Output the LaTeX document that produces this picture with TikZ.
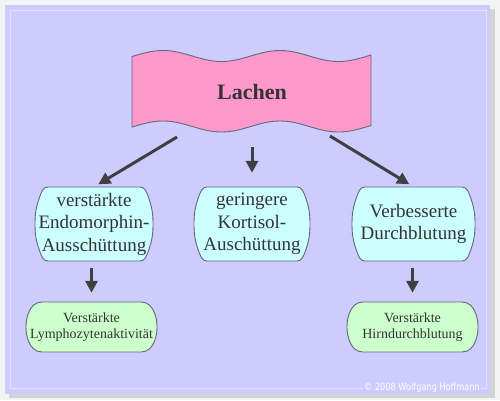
\documentclass[tikz,border=0pt]{standalone}
\usepackage{fontspec}
\setmainfont{Liberation Serif}
\newfontfamily\copyfont[FakeStretch=0.82]{DejaVu Sans}
\usetikzlibrary{arrows.meta}
\definecolor{bgpurple}{HTML}{CCCCFF}
\definecolor{innerline}{HTML}{E2E2FF}
\definecolor{outerbg}{HTML}{F4F4F4}
\definecolor{shadowgray}{HTML}{D4D4D4}
\definecolor{bannerpink}{HTML}{FF99CC}
\definecolor{boxcyan}{HTML}{CCFFFF}
\definecolor{boxgreen}{HTML}{CCFFCC}
\definecolor{edgegray}{HTML}{666677}
\definecolor{arrowgray}{HTML}{404040}
\definecolor{textgray}{HTML}{333333}
% #1 style, #2 cx, #3 cy, #4 half width, #5 half height, #6 top inset, #7 side inset, #8 corner drop
\newcommand{\blobshape}[8]{%
  \path[#1, shift={(#2,#3)}] (-#4+#6,-#5) -- (#4-#6,-#5)
    to[out=0,in=110] (#4-#7,-#5+#8) to[out=-70,in=90] (#4,0)
    to[out=-90,in=70] (#4-#7,#5-#8) to[out=-110,in=0] (#4-#6,#5)
    -- (-#4+#6,#5)
    to[out=180,in=-70] (-#4+#7,#5-#8) to[out=110,in=-90] (-#4,0)
    to[out=90,in=-110] (-#4+#7,-#5+#8) to[out=70,in=180] cycle;}
\begin{document}
\begin{tikzpicture}[x=1pt,y=-1pt,
  midfill/.style={draw=edgegray, line width=0.9pt, fill=boxcyan},
  lowfill/.style={draw=edgegray, line width=0.9pt, fill=boxgreen},
  midtext/.style={minimum height=74pt, inner sep=0pt, align=center,
    text=textgray, font=\fontsize{19}{22.5}\selectfont},
  lowtext/.style={minimum height=50pt, inner sep=0pt, align=center,
    text=textgray, font=\fontsize{14}{16}\selectfont},
  arr/.style={draw=arrowgray, line width=3pt, -{Triangle[width=12pt,length=12pt]}},
  ]
\useasboundingbox (0,0) rectangle (500,400);
% frame
\fill[outerbg] (0,0) rectangle (500,400);
\fill[shadowgray] (9,9) rectangle (495,398);
\fill[bgpurple] (5,5) rectangle (490,394);
\draw[innerline, line width=1pt] (10.5,10.5) rectangle (486.5,388);
\node[fill=bgpurple, inner sep=1.5pt, text=white, font=\copyfont\fontsize{10}{12}\selectfont] (copy) at (422,388) {© 2008 Wolfgang Hoffmann};
% banner
\draw[fill=bannerpink, draw=edgegray, line width=0.9pt]
  plot[domain=132:371, samples=80] (\x,{56-5.5*cos(3.0769*(\x-163))})
  -- plot[domain=371:132, samples=80] (\x,{126.5-5.5*cos(3.0769*(\x-163))}) -- cycle;
\node[text=textgray, font=\bfseries\fontsize{22}{26}\selectfont] (lachen) at (252,92) {Lachen};
% box shapes
\blobshape{midfill}{94}{224}{59}{37}{13}{5}{9}
\blobshape{midfill}{252}{224}{58}{37}{13}{5}{9}
\blobshape{midfill}{413.5}{224}{61.5}{37}{13}{5}{9}
\blobshape{lowfill}{91.5}{327}{65.5}{25}{16}{2.5}{11}
\blobshape{lowfill}{412.5}{327}{65.5}{25}{16}{2.5}{11}
% box texts
\node[midtext, minimum width=118pt] (endo) at (94,224) {verstärkte\\Endomorphin-\\Ausschüttung};
\node[midtext, minimum width=116pt] (kort) at (252,224) {geringere\\Kortisol-\\Auschüttung};
\node[midtext, minimum width=123pt] (durch) at (413.5,224) {Verbesserte\\Durchblutung};
\node[lowtext, minimum width=131pt] (lymph) at (91.5,327) {Verstärkte\\Lymphozytenaktivität};
\node[lowtext, minimum width=131pt] (hirn) at (412.5,327) {Verstärkte\\Hirndurchblutung};
% arrow starts
\coordinate (s1) at (177,137);
\coordinate (s2) at (252,147);
\coordinate (s3) at (330,136);
\draw[arr, shorten >=5pt] (s1) -- (endo.north);
\draw[arr, shorten >=14pt] (s2) -- (kort.north);
\draw[arr, shorten >=5pt] (s3) -- (durch.north);
\draw[arr, shorten <=7pt, shorten >=9pt] (endo.south -| lymph.north) -- (lymph.north);
\draw[arr, shorten <=7pt, shorten >=9pt] (durch.south -| hirn.north) -- (hirn.north);
\end{tikzpicture}
\end{document}
